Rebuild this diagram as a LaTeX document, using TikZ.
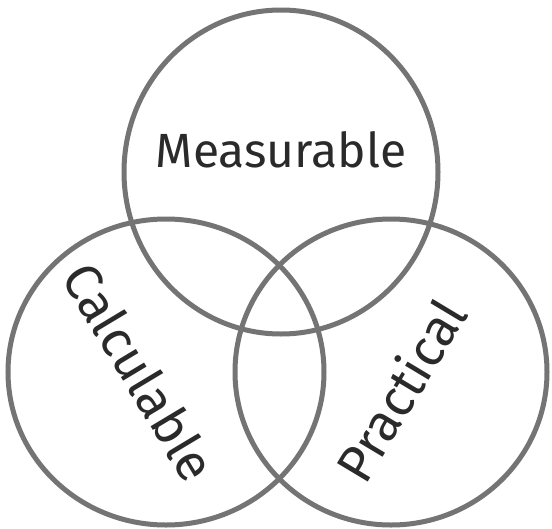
\documentclass[tikz,border=0pt]{standalone}
\usepackage{fontspec}
\setmainfont{Fira Sans}
\definecolor{ringgray}{HTML}{747474}
\definecolor{inkgray}{HTML}{2A2A2A}
\begin{document}
\begin{tikzpicture}[x=1pt,y=-1pt,
  ring/.style={draw=ringgray,line width=5pt},
  lbl/.style={text=inkgray,font=\fontsize{48}{52}\selectfont,inner sep=0pt}]
\useasboundingbox[fill=white] (0,0) rectangle (552,528);
\draw[ring] (281,172) ellipse [x radius=157, y radius=162];
\draw[ring] (166,372) ellipse [x radius=158, y radius=153];
\draw[ring] (391,372) ellipse [x radius=156, y radius=153];
\node[lbl] (meas) at (281,150) {Measurable};
\node[lbl,font=\fontsize{52}{56}\selectfont,rotate=-59] (calc) at (140,372) {Calculable};
\node[lbl,font=\fontsize{52}{56}\selectfont,rotate=59] (prac) at (400,390) {Practical};
\end{tikzpicture}
\end{document}
